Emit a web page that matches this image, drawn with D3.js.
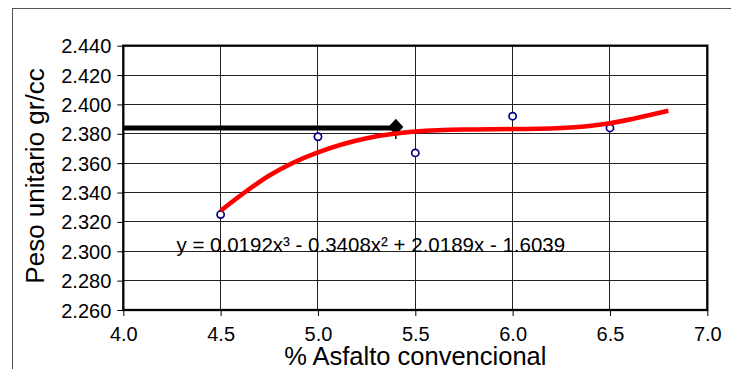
<!DOCTYPE html>
<html><head><meta charset="utf-8">
<script src="https://cdn.jsdelivr.net/npm/d3@7"></script>
<style>
html,body{margin:0;padding:0;background:#fff;}
svg{display:block;font-family:"Liberation Sans",Arial,sans-serif;}
</style></head>
<body><svg id="c" width="731" height="369"></svg>
<script>
// Data
const xTicks = [4.0, 4.5, 5.0, 5.5, 6.0, 6.5, 7.0];
const yTicks = [2.26, 2.28, 2.30, 2.32, 2.34, 2.36, 2.38, 2.40, 2.42, 2.44];
const asphaltPct = [4.5, 5.0, 5.5, 6.0, 6.5];
const unitWeight = [2.325, 2.378, 2.367, 2.392, 2.384];
const trendX = [4.5, 4.75, 5.0, 5.25, 5.5, 5.75, 6.0, 6.25, 6.5, 6.8];
const trendY = [2.3276, 2.3516, 2.3674, 2.3770, 2.3816, 2.3829, 2.3832, 2.3840, 2.3872, 2.3957];
const optimumX = [4.0, 5.4];
const optimumY = [2.384, 2.384];
const equation = "y = 0.0192x³ - 0.3408x² + 2.0189x - 1.6039";
const xTitle = "% Asfalto convencional";
const yTitle = "Peso unitario gr/cc";

const svg = d3.select("#c");
const L = 123.3, R = 707.3, T = 45.7, B = 310;
const x = d3.scaleLinear().domain([4, 7]).range([L, R]);
const y = d3.scaleLinear().domain([2.26, 2.44]).range([B, T]);

// outer chart frame
svg.append("rect").attr("x", 12.5).attr("y", 8.5).attr("width", 900).attr("height", 600)
  .attr("fill", "none").attr("stroke", "#555").attr("stroke-width", 1);

// gridlines
const g = svg.append("g").attr("shape-rendering", "crispEdges");
g.selectAll(".hg").data(yTicks).join("line")
  .attr("x1", L).attr("x2", R).attr("y1", d => y(d)).attr("y2", d => y(d))
  .attr("stroke", "#222").attr("stroke-width", 1);
g.selectAll(".vg").data(xTicks).join("line")
  .attr("y1", T).attr("y2", B).attr("x1", d => x(d)).attr("x2", d => x(d))
  .attr("stroke", "#222").attr("stroke-width", 1);

// axes
const yAxis = d3.axisLeft(y).tickValues(yTicks).tickFormat(d3.format(".3f")).tickSize(6).tickSizeOuter(0);
const xAxis = d3.axisBottom(x).tickValues(xTicks).tickFormat(d3.format(".1f")).tickSize(6).tickSizeOuter(0);
const ya = svg.append("g").attr("transform", `translate(${L},0)`).call(yAxis);
const xa = svg.append("g").attr("transform", `translate(0,${B})`).call(xAxis);
[ya, xa].forEach(a => {
  a.select(".domain").remove();
  a.selectAll(".tick line").attr("stroke", "#000").attr("stroke-width", 1);
  a.selectAll("text").attr("fill", "#000").attr("font-size", 20)
    .attr("font-family", "'Liberation Sans', Arial, sans-serif");
});
ya.selectAll("text").attr("x", -12).attr("dy", "0.35em");
xa.selectAll("text").attr("y", 17).attr("dy", "0.71em");

// plot border
svg.append("rect").attr("x", L).attr("y", T).attr("width", R - L).attr("height", B - T)
  .attr("fill", "none").attr("stroke", "#000").attr("stroke-width", 2.3);

// optimum black line with diamond
const opt = optimumX.map((d, i) => [d, optimumY[i]]);
svg.append("path").datum(opt)
  .attr("d", d3.line().x(d => x(d[0])).y(d => y(d[1])))
  .attr("stroke", "#000").attr("stroke-width", 5).attr("fill", "none");
const last = opt[opt.length - 1];
svg.append("line").attr("x1", x(last[0])).attr("x2", x(last[0]))
  .attr("y1", y(last[1])).attr("y2", y(last[1]) + 11).attr("stroke", "#000").attr("stroke-width", 1.5);
svg.append("path")
  .attr("d", d3.symbol().type(d3.symbolDiamond2 || d3.symbolDiamond).size(145))
  .attr("transform", `translate(${x(last[0])},${y(last[1]) - 1}) scale(1,1.1)`)
  .attr("fill", "#000");

// data points
svg.append("g").selectAll("circle").data(asphaltPct.map((d, i) => [d, unitWeight[i]])).join("circle")
  .attr("cx", d => x(d[0])).attr("cy", d => y(d[1])).attr("r", 3.6)
  .attr("fill", "#fff").attr("stroke", "#000080").attr("stroke-width", 1.7);
// red trend curve
const trend = trendX.map((d, i) => [d, trendY[i]]);
svg.append("path").datum(trend)
  .attr("d", d3.line().x(d => x(d[0])).y(d => y(d[1])).curve(d3.curveNatural))
  .attr("stroke", "#ff0000").attr("stroke-width", 4.5).attr("fill", "none");

// equation
svg.append("text").attr("x", 176.5).attr("y", 252).attr("font-size", 20.5)
  .attr("fill", "#000").text(equation);

// axis titles
svg.append("text").attr("x", (L + R) / 2).attr("y", 365).attr("text-anchor", "middle")
  .attr("font-size", 25.5).attr("fill", "#000").text(xTitle);
svg.append("text").attr("transform", `translate(44,176) rotate(-90)`).attr("text-anchor", "middle")
  .attr("font-size", 26).attr("fill", "#000").text(yTitle);
</script></body></html>
